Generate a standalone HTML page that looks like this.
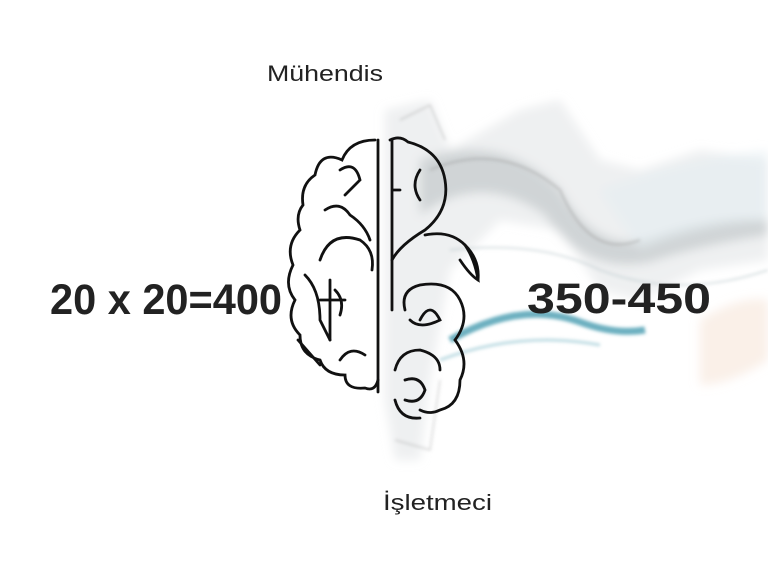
<!DOCTYPE html>
<html><head><meta charset="utf-8"><style>
html,body{margin:0;padding:0;background:#fff;width:768px;height:577px;overflow:hidden}
</style></head><body>
<svg width="768" height="577" viewBox="0 0 768 577" xmlns="http://www.w3.org/2000/svg">
<defs>
<filter id="b" x="-20%" y="-20%" width="140%" height="140%"><feGaussianBlur stdDeviation="5"/></filter>
<filter id="b2"><feGaussianBlur stdDeviation="1.5"/></filter>
</defs>
<g filter="url(#b)">
<path d="M385 110 L430 100 L450 150 L520 110 L560 100 L600 160 L640 170 L700 150 L768 160 L768 260 L700 270 L640 300 L600 290 L560 230 L500 220 L450 270 L430 380 L420 460 L395 460 L385 400 Z" fill="#dde2e4" opacity="0.5"/>
<path d="M420 160 Q500 130 560 190 Q600 260 660 235 Q720 215 768 220 L768 235 Q700 245 650 262 Q585 275 545 215 Q480 170 420 215 Z" fill="#aab1b5" opacity="0.45"/>
<path d="M600 190 Q680 160 768 150 L768 220 Q700 225 640 250 Z" fill="#e3eef2" opacity="0.5"/>
<path d="M700 320 Q740 295 768 300 L768 360 Q730 385 700 385 Z" fill="#f6e2d2" opacity="0.5"/>
</g>
<g fill="none" filter="url(#b2)">
<path d="M450 340 Q520 300 580 322 Q615 335 645 330" stroke="#2f8ea5" stroke-width="7" opacity="0.7"/>
<path d="M440 360 Q520 330 600 345" stroke="#7fb9c8" stroke-width="3" opacity="0.5"/>
<path d="M430 170 Q500 140 560 190 Q590 260 640 240" stroke="#999" stroke-width="2" opacity="0.5"/>
<path d="M450 250 Q540 240 600 270 Q680 300 768 270" stroke="#b9c7cc" stroke-width="2" opacity="0.5"/>
<path d="M400 120 L430 105 L445 140 M395 440 L430 450 L440 380" stroke="#999" stroke-width="1" opacity="0.6"/>
</g>
<g fill="none" stroke="#111" stroke-width="2.8" stroke-linecap="round">
<path d="M375 140 Q350 140 342 160 Q320 150 315 175 Q300 185 303 205 Q295 215 300 230 Q285 245 293 265 Q283 285 295 300 Q285 320 300 335 Q300 355 320 360 Q325 375 345 375 Q345 390 365 388 Q375 392 378 380"/>
<path d="M378 140 L378 392"/>
<path d="M320 260 Q330 230 360 240 Q375 250 372 270"/>
<path d="M305 275 Q320 290 320 320 L330 340"/>
<path d="M330 280 L330 340 M320 300 L345 300 M335 290 Q345 300 340 315"/>
<path d="M340 360 Q350 345 365 355"/>
<path d="M340 170 Q355 160 360 180 L345 195"/>
<path d="M325 210 Q340 200 350 215 Q365 225 370 240"/>
<path d="M298 340 L320 365"/>
<path d="M390 140 Q400 135 408 142 Q440 150 445 180 Q450 210 425 230 Q400 245 392 260"/>
<path d="M392 140 L392 310 M392 190 L400 190"/>
<path d="M420 170 Q410 185 420 200"/>
<path d="M425 235 Q450 230 465 245 Q480 260 478 280"/>
<path d="M465 245 Q475 260 478 280 Q470 275 460 260"/>
<path d="M405 310 Q400 290 420 285 Q450 280 460 300 Q470 320 455 340 Q470 360 460 380 Q460 405 440 410 Q430 415 420 410"/>
<path d="M410 320 Q420 330 440 320 Q430 300 420 320"/>
<path d="M395 370 Q400 350 420 350 Q440 355 440 370"/>
<path d="M405 380 Q420 375 425 390 Q420 405 405 400"/>
<path d="M395 400 Q400 420 420 418"/>
</g>
<g font-family="Liberation Sans, sans-serif" fill="#222">
<text x="267" y="81" font-size="22" textLength="116" lengthAdjust="spacingAndGlyphs">Mühendis</text>
<text x="383" y="510" font-size="22" textLength="109" lengthAdjust="spacingAndGlyphs">İşletmeci</text>
<text x="50" y="314" font-size="43" font-weight="bold" textLength="232" lengthAdjust="spacingAndGlyphs">20 x 20=400</text>
<text x="527" y="313" font-size="43" font-weight="bold" textLength="184" lengthAdjust="spacingAndGlyphs">350-450</text>
</g>
</svg>
</body></html>
